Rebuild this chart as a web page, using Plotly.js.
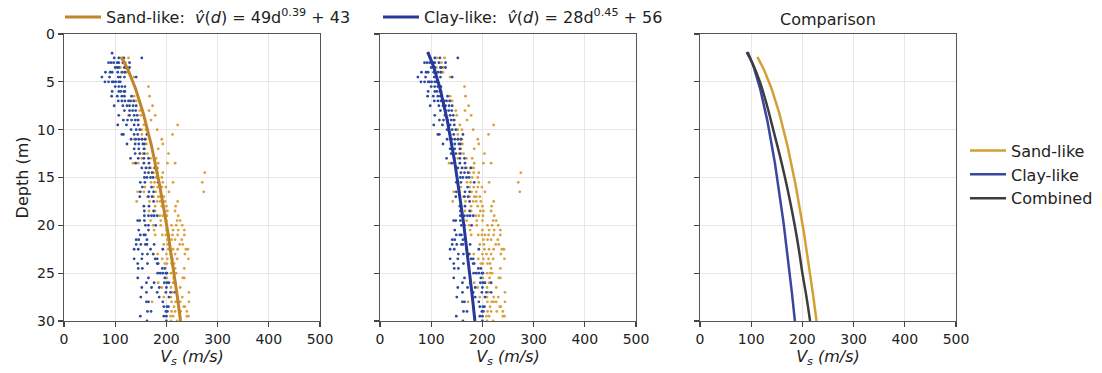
<!DOCTYPE html>
<html><head><meta charset="utf-8">
<script src="https://cdn.plot.ly/plotly-3.0.1.min.js"></script>
<style>html,body{margin:0;padding:0;background:#fff}</style>
</head><body><div id="chart" style="width:1102px;height:373px"></div>
<script>
// ---- Data ----
// Sand-like points: depth (m) and Vs (m/s)
const sandD = [2.5,2.5,3.0,3.5,3.5,4.0,4.0,4.5,5.5,6.5,6.5,7.0,7.0,7.5,8.0,8.0,8.5,8.5,8.5,9.0,9.0,9.5,9.5,10.0,10.0,10.0,10.5,10.5,
 11.0,11.0,11.0,11.0,11.5,11.5,12.0,12.0,12.5,12.5,12.5,13.0,13.0,13.0,13.5,13.5,13.5,13.5,13.5,14.0,14.0,14.0,14.0,14.5,14.5,14.5,14.5,
 15.0,15.0,15.5,15.5,15.5,15.5,15.5,16.0,16.0,16.0,16.0,16.0,16.5,16.5,16.5,16.5,16.5,16.5,17.0,17.0,17.0,17.0,17.0,17.5,17.5,17.5,17.5,17.5,17.5,
 18.0,18.0,18.0,18.0,18.5,18.5,18.5,18.5,18.5,19.0,19.0,19.0,19.0,19.5,19.5,19.5,19.5,19.5,20.0,20.0,20.0,20.0,20.0,20.5,20.5,20.5,20.5,20.5,
 21.0,21.0,21.0,21.0,21.0,21.0,21.0,21.5,21.5,21.5,21.5,22.0,22.0,22.0,22.0,22.5,22.5,22.5,22.5,22.5,23.0,23.0,23.0,23.0,23.0,23.0,
 23.5,23.5,23.5,23.5,23.5,24.0,24.0,24.0,24.0,24.5,24.5,25.0,25.0,25.0,25.5,25.5,25.5,25.5,26.0,26.0,26.5,26.5,26.5,27.0,27.0,
 27.5,27.5,27.5,27.5,28.0,28.0,28.0,28.0,28.0,28.0,28.5,28.5,28.5,29.0,29.0,29.0,29.0,29.5,29.5,29.5,29.5,30.0,30.0];
const sandV = [111,126,120,110,124,118,123,137,165,137,167,137,141,173,148,166,126,150,178,146,170,156,222,152,160,182,152,212,
 137,153,160,191,161,193,158,184,154,163,204,152,169,180,135,145,184,202,217,161,169,176,183,175,183,193,275,
 180,191,170,177,193,213,270,158,175,183,191,199,144,156,179,188,205,273,163,175,184,188,195,142,167,182,188,197,222,
 178,191,200,218,166,178,196,202,217,187,193,201,223,169,189,200,221,227,174,189,210,219,231,176,200,213,223,235,
 178,192,199,205,212,222,235,202,210,217,230,195,203,226,232,204,213,222,238,242,175,183,200,208,217,236,
 192,202,212,221,243,197,201,210,215,217,235,209,215,219,201,214,232,235,184,213,191,209,227,212,244,
 195,209,222,231,172,210,218,222,227,244,215,234,236,210,217,228,240,208,213,240,243,209,221];

// Clay-like points
const clayD = [2.0,2.5,2.5,2.5,2.5,3.0,3.0,3.0,3.0,3.0,3.0,3.0,3.5,3.5,3.5,3.5,3.5,3.5,4.0,4.0,4.0,4.0,4.0,4.0,
 4.5,4.5,4.5,4.5,4.5,4.5,5.0,5.0,5.0,5.0,5.0,5.0,5.0,5.5,5.5,5.5,5.5,6.0,6.0,6.0,6.0,6.0,6.5,6.5,6.5,6.5,6.5,
 7.0,7.0,7.0,7.0,7.0,7.0,7.5,7.5,7.5,7.5,7.5,7.5,8.0,8.0,8.0,8.0,8.5,8.5,8.5,8.5,9.0,9.0,9.0,9.0,9.0,9.5,9.5,9.5,9.5,
 10.0,10.0,10.0,10.5,10.5,10.5,10.5,10.5,11.0,11.0,11.0,11.0,11.0,11.5,11.5,11.5,11.5,11.5,12.0,12.0,12.0,12.5,12.5,12.5,
 13.0,13.0,13.0,13.0,13.5,13.5,13.5,14.0,14.0,14.0,14.0,14.5,14.5,14.5,15.0,15.0,15.0,15.0,15.5,15.5,15.5,16.0,16.0,
 16.5,16.5,16.5,17.0,17.0,17.0,17.5,18.0,18.0,18.5,18.5,19.0,19.0,19.0,19.0,19.0,19.5,19.5,19.5,20.0,20.0,20.0,20.5,20.5,
 21.0,21.0,21.0,21.5,21.5,21.5,22.0,22.0,22.0,22.0,22.0,22.5,22.5,22.5,22.5,23.0,23.0,23.0,23.5,23.5,23.5,23.5,
 24.0,24.0,24.0,24.0,24.5,24.5,24.5,24.5,25.0,25.0,25.0,25.0,25.0,25.5,25.5,25.5,26.0,26.0,26.0,26.0,26.0,26.0,
 26.5,26.5,26.5,26.5,27.0,27.0,27.0,27.0,27.0,27.5,27.5,27.5,28.0,28.0,28.0,28.5,28.5,28.5,29.0,29.0,29.0,29.0,29.5,29.5,29.5,30.0,30.0];
const clayV = [94,98,107,117,152,87,92,97,104,107,115,128,100,104,107,118,120,128,81,90,94,105,113,119,
 74,89,106,110,118,141,80,87,94,97,101,107,110,100,107,113,119,94,107,111,117,119,93,104,113,118,132,
 106,113,119,126,130,136,98,115,123,128,135,141,118,128,134,140,107,128,137,143,116,124,132,139,144,105,122,137,145,
 131,141,148,113,116,137,144,162,131,140,146,152,158,123,139,146,154,157,137,146,156,139,148,157,
 130,145,156,165,140,156,166,152,160,167,178,158,165,172,157,162,169,174,149,158,184,153,171,
 149,166,175,148,165,172,175,156,166,157,175,157,165,171,176,182,144,148,157,159,165,179,146,165,
 149,156,159,141,146,162,141,150,159,162,176,137,145,169,193,153,163,174,137,152,178,182,
 144,163,182,184,145,153,192,197,183,188,193,199,201,144,165,197,161,176,196,201,205,217,
 152,171,186,200,161,182,199,208,217,150,186,205,161,165,193,195,201,204,163,170,199,202,149,195,200,162,200];

// Fitted curves as printed in the legend: v(d) = a*d^b + c
const sandFit = {a: 49, b: 0.39, c: 43, dMin: 2.4, dMax: 30};
const clayFit = {a: 28, b: 0.45, c: 56, dMin: 1.9, dMax: 30};
// Combined curve
const combD = [1.9, 3, 5, 7.5, 10, 12.5, 15, 17.5, 20, 22.5, 25, 27.5, 30];
const combV = [91, 102, 117, 131, 143, 155, 166, 176, 185, 193, 200, 208, 215];

const tickVals = [0, 100, 200, 300, 400, 500];
const depthTicks = [0, 5, 10, 15, 20, 25, 30];

// ---- Rendering ----
function fitCurve(f) {
  const d = [], v = [];
  const n = 120;
  for (let i = 0; i <= n; i++) {
    const di = f.dMin + (f.dMax - f.dMin) * i / n;
    d.push(di); v.push(f.a * Math.pow(di, f.b) + f.c);
  }
  return {d, v};
}
const sC = fitCurve(sandFit), cC = fitCurve(clayFit);

const SAND_PT = '#d9a03c', CLAY_PT = '#2b4aa0';
const SAND_LN = '#c0852a', CLAY_LN = '#26399a';
const SAND_CMP = '#d4a035', CLAY_CMP = '#3a47a0', COMB = '#3d3d3d';

function pts(x, y, col, xa, ya) {
  return {type: 'scatter', mode: 'markers', x: x, y: y, xaxis: xa, yaxis: ya,
    marker: {color: col, size: 2.8, line: {width: 0}}, showlegend: false, hoverinfo: 'skip'};
}
const traces = [
  pts(sandV, sandD, SAND_PT, 'x', 'y'),
  pts(clayV, clayD, CLAY_PT, 'x', 'y'),
  {type: 'scatter', mode: 'lines', x: sC.v, y: sC.d, xaxis: 'x', yaxis: 'y',
   line: {color: SAND_LN, width: 3},
   name: 'Sand-like:  <i>v\u0302</i>(<i>d</i>) = 49d<sup>0.39</sup> + 43', legend: 'legend'},
  pts(sandV, sandD, SAND_PT, 'x2', 'y2'),
  pts(clayV, clayD, CLAY_PT, 'x2', 'y2'),
  {type: 'scatter', mode: 'lines', x: cC.v, y: cC.d, xaxis: 'x2', yaxis: 'y2',
   line: {color: CLAY_LN, width: 3},
   name: 'Clay-like:  <i>v\u0302</i>(<i>d</i>) = 28d<sup>0.45</sup> + 56', legend: 'legend'},
  {type: 'scatter', mode: 'lines', x: sC.v, y: sC.d, xaxis: 'x3', yaxis: 'y3',
   line: {color: SAND_CMP, width: 2.5}, name: 'Sand-like', legend: 'legend2'},
  {type: 'scatter', mode: 'lines', x: cC.v, y: cC.d, xaxis: 'x3', yaxis: 'y3',
   line: {color: CLAY_CMP, width: 2.5}, name: 'Clay-like', legend: 'legend2'},
  {type: 'scatter', mode: 'lines', x: combV, y: combD, xaxis: 'x3', yaxis: 'y3',
   line: {color: COMB, width: 2.5, shape: 'spline'}, name: 'Combined', legend: 'legend2'}
];

const W = 1102;
const FONT = 'DejaVu Sans, sans-serif';
function xax(l, r) {
  return {domain: [l / W, r / W], range: [0, 500], tickvals: tickVals, ticks: 'outside', ticklen: 5,
    tickcolor: '#444', tickwidth: 1.2, showline: true, mirror: true, linecolor: '#555', linewidth: 1.3,
    showgrid: true, gridcolor: '#e6e6e6', gridwidth: 1, zeroline: false, automargin: false,
    tickfont: {size: 14, color: '#222'},
    title: {text: '<i>V<sub>s</sub> (m/s)</i>', font: {size: 16, color: '#222'}, standoff: 2}};
}
function yax(anchor, labels) {
  return {anchor: anchor, domain: [0, 1], range: [30, 0], tickvals: depthTicks, ticks: 'outside', ticklen: 5,
    tickcolor: '#444', tickwidth: 1.2, showline: true, mirror: true, linecolor: '#555', linewidth: 1.3,
    showgrid: true, gridcolor: '#e6e6e6', gridwidth: 1, zeroline: false, automargin: false,
    showticklabels: labels, tickfont: {size: 14, color: '#222'},
    title: labels ? {text: 'Depth (m)', font: {size: 16, color: '#222'}, standoff: 4} : {text: ''}};
}

const layout = {
  width: 1102, height: 373, margin: {l: 0, r: 0, t: 31, b: 52},
  paper_bgcolor: '#fff', plot_bgcolor: '#fff',
  font: {family: FONT, size: 14, color: '#222'},
  xaxis: xax(64, 320), yaxis: yax('x', true),
  xaxis2: Object.assign(xax(380, 636), {anchor: 'y2'}), yaxis2: yax('x2', false),
  xaxis3: Object.assign(xax(700, 956), {anchor: 'y3'}), yaxis3: yax('x3', false),
  legend: {orientation: 'h', x: 60 / W, xanchor: 'left', y: 1.0, yanchor: 'bottom',
    entrywidth: 267, entrywidthmode: 'pixels', itemwidth: 36, font: {size: 16, color: '#222'},
    bgcolor: 'rgba(0,0,0,0)', borderwidth: 0},
  legend2: {x: 965 / W, xanchor: 'left', y: 0.51, yanchor: 'middle', itemwidth: 36,
    font: {size: 16, color: '#222'}, bgcolor: 'rgba(0,0,0,0)', borderwidth: 0, tracegroupgap: 0},
  annotations: [{text: 'Comparison', xref: 'paper', yref: 'paper', x: 828 / W, y: 1, xanchor: 'center',
    yanchor: 'bottom', yshift: 3, showarrow: false, font: {size: 16, color: '#222'}}],
  showlegend: true
};
Plotly.newPlot('chart', traces, layout, {staticPlot: true, displayModeBar: false});
</script></body></html>
